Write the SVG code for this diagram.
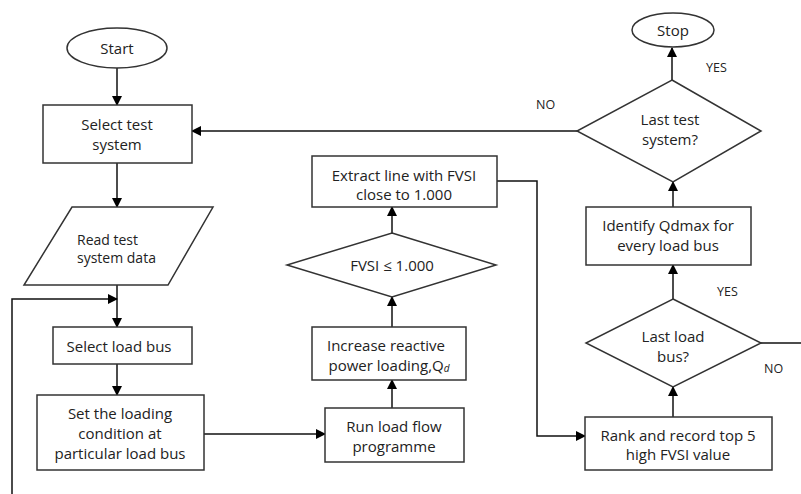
<svg xmlns="http://www.w3.org/2000/svg" width="801" height="494" viewBox="0 0 801 494">
<defs>
<marker id="ah" markerWidth="10" markerHeight="10" refX="9" refY="5" orient="auto" markerUnits="userSpaceOnUse">
<path d="M0,0 L10,5 L0,10 Z" fill="#000"/>
</marker>
<style>
.s{fill:#fff;stroke:#333;stroke-width:1.5}
.t{font-family:"Open Sans","Liberation Sans",sans-serif;font-size:15px;fill:#222;text-anchor:middle;dominant-baseline:central}
.l{font-family:"Open Sans","Liberation Sans",sans-serif;font-size:12.5px;fill:#222}
.c{fill:none;stroke:#111;stroke-width:1.5}
</style>
</defs>
<rect width="801" height="494" fill="#fff"/>
<g id="connectors">
<line class="c" x1="117" y1="68" x2="117" y2="105" marker-end="url(#ah)"/>
<line class="c" x1="117" y1="163" x2="117" y2="207" marker-end="url(#ah)"/>
<line class="c" x1="117" y1="285" x2="117" y2="327" marker-end="url(#ah)"/>
<polyline class="c" points="12,494 12,299 117,299" marker-end="url(#ah)"/>
<line class="c" x1="117" y1="364" x2="117" y2="395" marker-end="url(#ah)"/>
<line class="c" x1="204" y1="434" x2="325" y2="434" marker-end="url(#ah)"/>
<line class="c" x1="392" y1="408" x2="392" y2="380" marker-end="url(#ah)"/>
<line class="c" x1="392" y1="327" x2="392" y2="297" marker-end="url(#ah)"/>
<line class="c" x1="392" y1="233" x2="392" y2="207" marker-end="url(#ah)"/>
<polyline class="c" points="497,181 537,181 537,436 585,436" marker-end="url(#ah)"/>
<line class="c" x1="673" y1="417" x2="673" y2="387" marker-end="url(#ah)"/>
<line class="c" x1="761" y1="343" x2="801" y2="343"/>
<line class="c" x1="673" y1="299" x2="673" y2="265" marker-end="url(#ah)"/>
<line class="c" x1="673" y1="207" x2="673" y2="182" marker-end="url(#ah)"/>
<line class="c" x1="672" y1="80" x2="672" y2="48" marker-end="url(#ah)"/>
<line class="c" x1="577" y1="131" x2="192" y2="131" marker-end="url(#ah)"/>
<text class="l" x="536" y="109">NO</text>
<text class="l" x="706" y="72">YES</text>
<text class="l" x="717" y="296">YES</text>
<text class="l" x="764" y="373">NO</text>
</g>
<g id="start"><ellipse class="s" cx="117" cy="48" rx="50" ry="20"/><text class="t" x="117" y="48">Start</text></g>
<g id="select-test-system"><rect class="s" x="43" y="105" width="149" height="58"/><text class="t" x="117" y="124">Select test</text><text class="t" x="117" y="144">system</text></g>
<g id="read-data"><polygon class="s" points="72,207 213,207 168,285 24,285"/><text class="t" style="text-anchor:start;font-size:14px" x="77" y="239">Read test</text><text class="t" style="text-anchor:start;font-size:14px" x="77" y="257">system data</text></g>
<g id="select-load-bus"><rect class="s" x="53" y="327" width="139" height="37"/><text class="t" x="119" y="346">Select load bus</text></g>
<g id="set-loading"><rect class="s" x="37" y="395" width="167" height="75"/><text class="t" x="120" y="413">Set the loading</text><text class="t" x="120" y="433">condition at</text><text class="t" x="120" y="453">particular load bus</text></g>
<g id="run-load-flow"><rect class="s" x="325" y="408" width="139" height="54"/><text class="t" x="394" y="426">Run load flow</text><text class="t" x="394" y="446">programme</text></g>
<g id="increase-reactive"><rect class="s" x="312" y="327" width="154" height="53"/><text class="t" x="386" y="345">Increase reactive</text><text class="t" x="389" y="365">power loading,Q<tspan font-size="10px" font-style="italic" dy="3">d</tspan></text></g>
<g id="fvsi-check"><polygon class="s" points="392,233 496,265 392,297 287,265"/><text class="t" x="392" y="265">FVSI ≤ 1.000</text></g>
<g id="extract-line"><rect class="s" x="312" y="156" width="185" height="51"/><text class="t" x="404" y="175">Extract line with FVSI</text><text class="t" x="404" y="194">close to 1.000</text></g>
<g id="rank-record"><rect class="s" x="585" y="417" width="187" height="53"/><text class="t" x="678" y="435">Rank and record top 5</text><text class="t" x="678" y="454">high FVSI value</text></g>
<g id="last-load-bus"><polygon class="s" points="673,299 761,343 673,387 586,343"/><text class="t" x="673" y="336">Last load</text><text class="t" x="673" y="356">bus?</text></g>
<g id="identify-qdmax"><rect class="s" x="586" y="207" width="165" height="58"/><text class="t" x="668" y="225">Identify Qdmax for</text><text class="t" x="668" y="245">every load bus</text></g>
<g id="last-test-system"><polygon class="s" points="672,80 761,131 673,182 577,131"/><text class="t" x="670" y="119">Last test</text><text class="t" x="670" y="139">system?</text></g>
<g id="stop"><ellipse class="s" cx="673" cy="30" rx="41" ry="17"/><text class="t" x="673" y="30">Stop</text></g>
</svg>
